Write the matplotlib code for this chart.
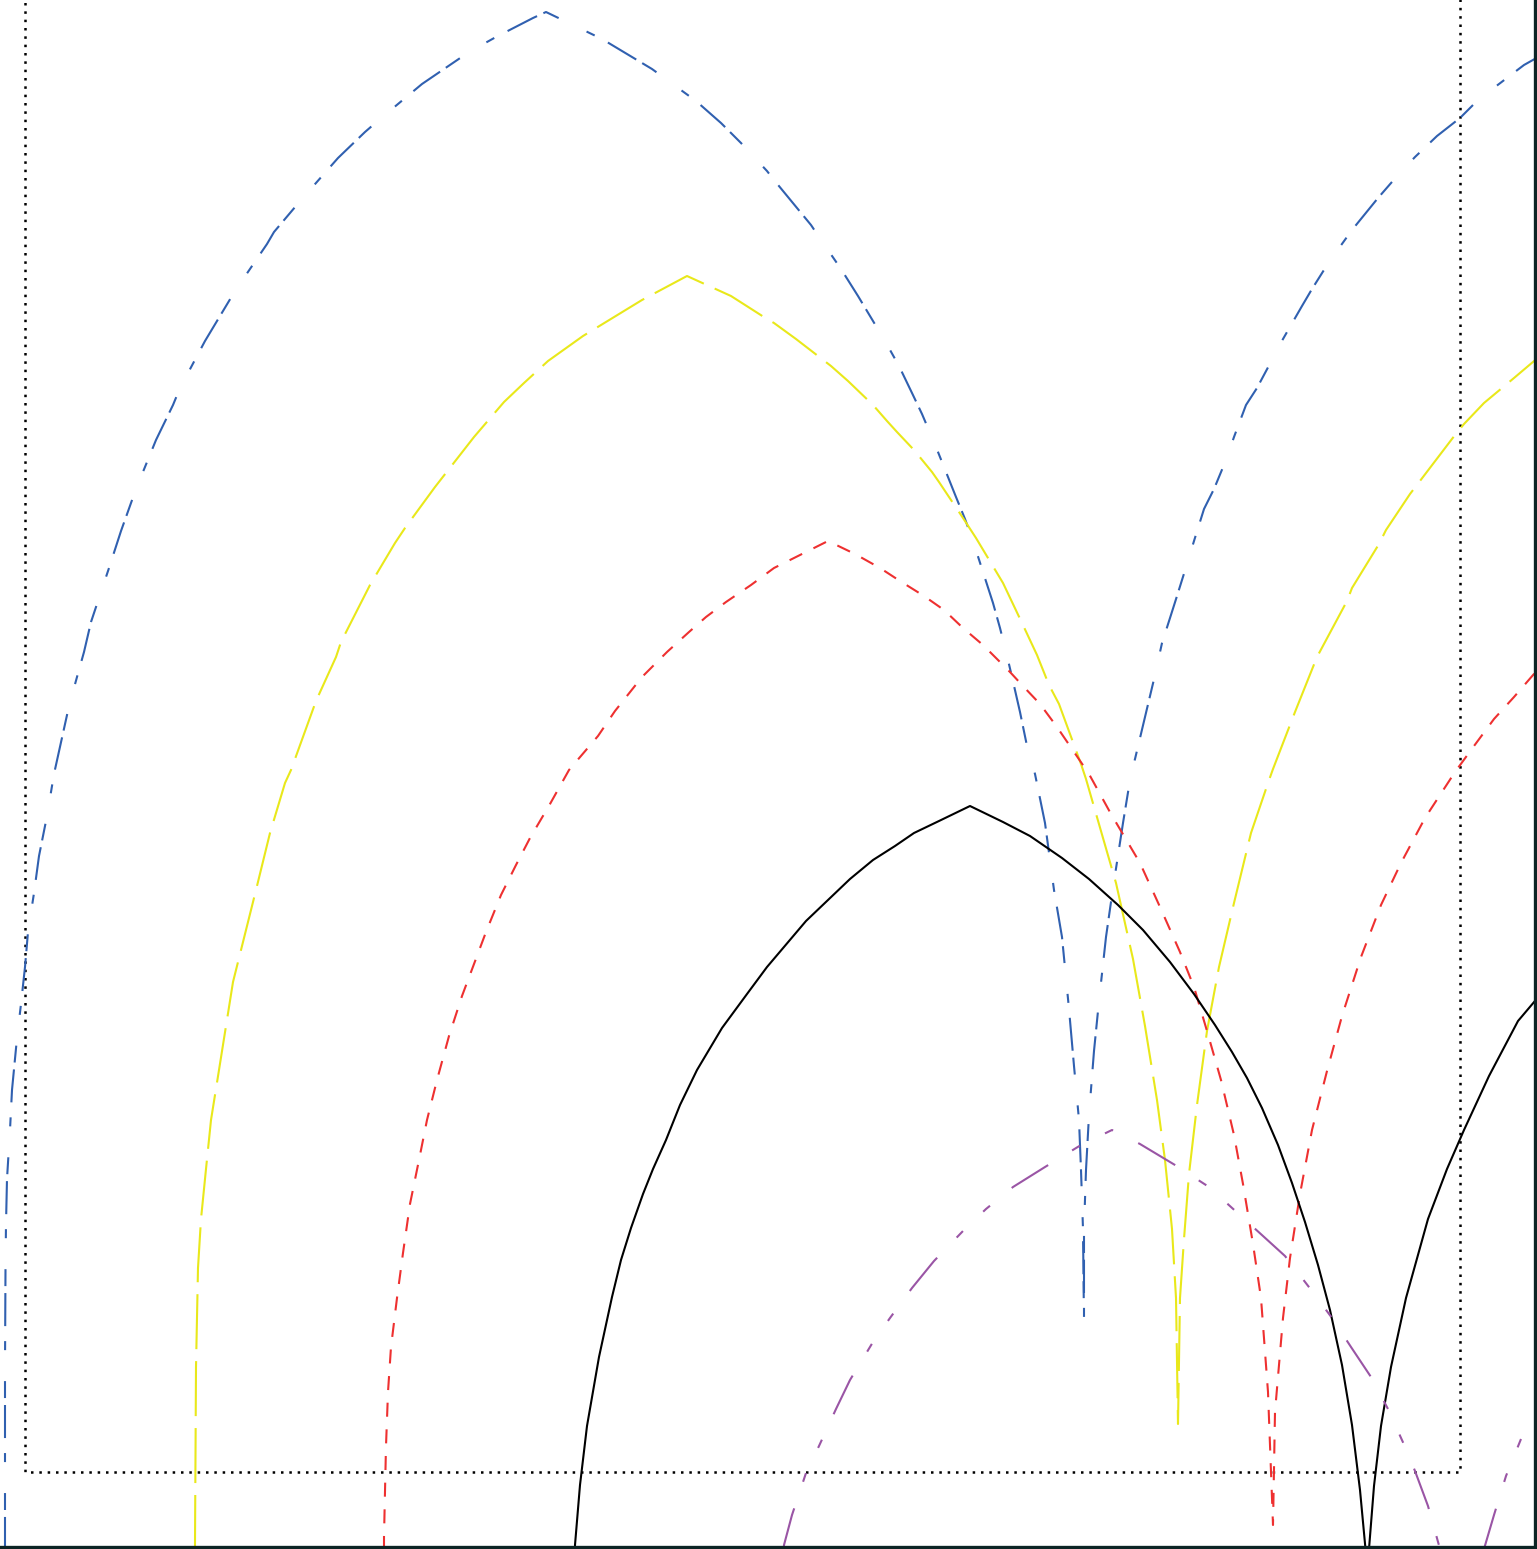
import numpy as np
import matplotlib
matplotlib.use("Agg")
import matplotlib.pyplot as plt
from matplotlib.patches import Rectangle

plt.rcParams["lines.scale_dashes"] = False

# points (x to the right, y downward, in pixels)
blue_x = [5, 5, 5, 5.5, 6, 7, 10, 12, 17, 21, 25, 28, 34, 39, 47, 54, 69, 77, 84, 91, 99,
          109, 121, 136, 156, 173, 180, 205, 235, 267, 274, 301, 338, 365, 380, 422, 469,
          496, 533, 546, 602, 652, 696, 721, 741, 767, 774, 811, 819, 841, 858, 870, 885,
          899, 912, 922, 936, 944, 956, 965, 973, 983, 993, 1000, 1008, 1012, 1020, 1027,
          1035, 1045, 1054, 1062, 1069, 1074, 1079, 1081, 1083, 1084, 1084, 1086, 1089,
          1094, 1099, 1106, 1113, 1123, 1131, 1135, 1145, 1155, 1162, 1170, 1177, 1187,
          1194, 1204, 1214, 1226, 1234, 1246, 1257, 1273, 1283, 1302, 1312, 1329, 1352,
          1378, 1398, 1415, 1437, 1460, 1479, 1499, 1524, 1540]
blue_y = [1560, 1538, 1367, 1268, 1224, 1179, 1130, 1090, 1038, 1004, 967, 932, 893, 856,
          816, 774, 706, 677, 652, 622, 598, 568, 531, 489, 440, 405, 388, 341, 291, 244,
          232, 200, 158, 132, 119, 84, 52, 37, 18, 12, 39, 69, 101, 123, 143, 171, 180, 225,
          237, 269, 296, 316, 341, 366, 393, 414, 447, 467, 497, 519, 541, 572, 603, 628,
          660, 677, 712, 746, 774, 823, 890, 937, 1009, 1066, 1120, 1170, 1229, 1323, 1229,
          1170, 1115, 1051, 1001, 937, 888, 823, 774, 759, 717, 675, 643, 618, 596, 564,
          541, 509, 489, 460, 437, 405, 388, 358, 339, 306, 289, 262, 230, 198, 175, 157,
          136, 118, 99, 84, 65, 56]

yellow_x = [195, 195, 196, 198, 201, 206, 211, 219, 226, 233, 243, 256, 270, 285, 291, 316,
            336, 341, 370, 395, 405, 435, 474, 504, 524, 548, 583, 642, 687, 731, 767, 774,
            796, 831, 848, 873, 887, 897, 914, 932, 939, 963, 976, 1003, 1022, 1037, 1049,
            1059, 1081, 1086, 1103, 1116, 1133, 1145, 1157, 1165, 1172, 1176, 1178, 1180,
            1184, 1189, 1197, 1207, 1219, 1234, 1251, 1268, 1273, 1295, 1317, 1347, 1352,
            1379, 1386, 1410, 1423, 1455, 1464, 1484, 1514, 1540]
yellow_y = [1560, 1543, 1367, 1268, 1219, 1169, 1120, 1070, 1026, 982, 942, 890, 833, 783,
            770, 701, 657, 642, 585, 543, 528, 487, 437, 402, 383, 361, 336, 300, 276, 296,
            319, 323, 339, 366, 381, 405, 421, 432, 450, 472, 482, 518, 538, 583, 623, 655,
            685, 704, 764, 779, 838, 883, 959, 1026, 1100, 1160, 1229, 1298, 1424, 1298,
            1239, 1174, 1105, 1031, 967, 903, 833, 783, 769, 712, 657, 601, 588, 544, 530,
            494, 477, 435, 424, 403, 378, 356]

red_x = [384, 384, 386, 388, 391, 397, 403, 410, 420, 427, 437, 449, 462, 474, 486, 501,
         516, 530, 550, 569, 598, 615, 642, 667, 689, 706, 726, 751, 774, 828, 855, 880,
         900, 924, 944, 963, 983, 998, 1010, 1022, 1040, 1057, 1072, 1089, 1111, 1140,
         1160, 1180, 1194, 1207, 1221, 1234, 1243, 1253, 1261, 1268, 1273, 1275, 1283,
         1290, 1300, 1312, 1327, 1342, 1361, 1381, 1401, 1425, 1455, 1474, 1494, 1514,
         1540]
red_y = [1560, 1537, 1446, 1392, 1347, 1298, 1253, 1204, 1155, 1120, 1080, 1036, 996, 964,
         932, 895, 865, 838, 804, 770, 736, 711, 677, 652, 632, 617, 602, 585, 568, 541,
         554, 568, 581, 596, 610, 628, 645, 660, 672, 685, 704, 727, 749, 774, 814, 863,
         907, 952, 987, 1031, 1080, 1135, 1184, 1244, 1298, 1392, 1525, 1412, 1318, 1258,
         1194, 1130, 1071, 1016, 957, 905, 863, 818, 772, 746, 719, 697, 667]

black_x = [575, 575, 580, 587, 599, 612, 621, 631, 643, 653, 666, 680, 697, 722, 747, 767,
           806, 828, 850, 873, 895, 914, 939, 970, 1003, 1030, 1062, 1089, 1118, 1143,
           1170, 1194, 1215, 1232, 1247, 1262, 1278, 1292, 1305, 1318, 1330, 1342, 1352,
           1360, 1367, 1369, 1374, 1381, 1391, 1406, 1428, 1447, 1464, 1489, 1518, 1540]
black_y = [1560, 1545, 1485, 1426, 1357, 1297, 1260, 1228, 1194, 1169, 1140, 1105, 1070,
           1028, 994, 967, 921, 900, 879, 860, 846, 833, 821, 806, 822, 836, 858, 879, 905,
           930, 962, 994, 1025, 1052, 1078, 1108, 1145, 1183, 1222, 1265, 1310, 1365, 1425,
           1490, 1565, 1549, 1486, 1426, 1367, 1298, 1219, 1169, 1130, 1076, 1021, 995]

purple_x = [783, 784, 792, 806, 819, 836, 850, 873, 890, 912, 934, 963, 986, 1013, 1045,
            1081, 1112, 1140, 1175, 1209, 1231, 1263, 1285, 1312, 1332, 1351, 1371, 1388,
            1406, 1415, 1428, 1440, 1462, 1484, 1494, 1506, 1521, 1540]
purple_y = [1560, 1545, 1515, 1473, 1446, 1409, 1380, 1342, 1318, 1288, 1261, 1231, 1209,
            1187, 1167, 1145, 1130, 1144, 1165, 1187, 1207, 1236, 1256, 1291, 1318, 1347,
            1377, 1409, 1449, 1471, 1506, 1549, 1610, 1549, 1515, 1476, 1439, 1407]


fig = plt.figure(figsize=(15.37, 15.49), dpi=100)
ax = fig.add_axes([0, 2 / 1549, 1535 / 1537, 1547 / 1549])
ax.set_xlim(0, 1535)
ax.set_ylim(1547, 0)
ax.set_xticks([])
ax.set_yticks([])
ax.spines["left"].set_visible(False)
ax.spines["top"].set_visible(False)
for side in ["right", "bottom"]:
  ax.spines[side].set_color("#0c2424")
  ax.spines[side].set_linewidth(2.4)

# dotted frame
ax.add_patch(Rectangle((25, -20), 1435, 1492, fill=False, edgecolor="black",
                       linewidth=1.8, linestyle=(0, (1.8, 4.2))))

ax.plot(blue_x, blue_y, color="#3060b0", linewidth=1.5,
        linestyle=(0, (23.8, 5.0, 12.2, 22.3, 6.5, 10.8)))
ax.plot(yellow_x, yellow_y, color="#e9e81a", linewidth=1.5,
        linestyle=(0, (39.6, 8.6)))
ax.plot(red_x, red_y, color="#ee3030", linewidth=1.5,
        linestyle=(0, (10.1, 9.1)))
ax.plot(black_x, black_y, color="black", linewidth=1.5, linestyle="-")
ax.plot(purple_x, purple_y, color="#9a55a5", linewidth=1.5,
        linestyle=(0, (31, 20.2, 6.5, 20.2, 6.5, 20.2)))

fig.savefig("out.png", dpi=100)
